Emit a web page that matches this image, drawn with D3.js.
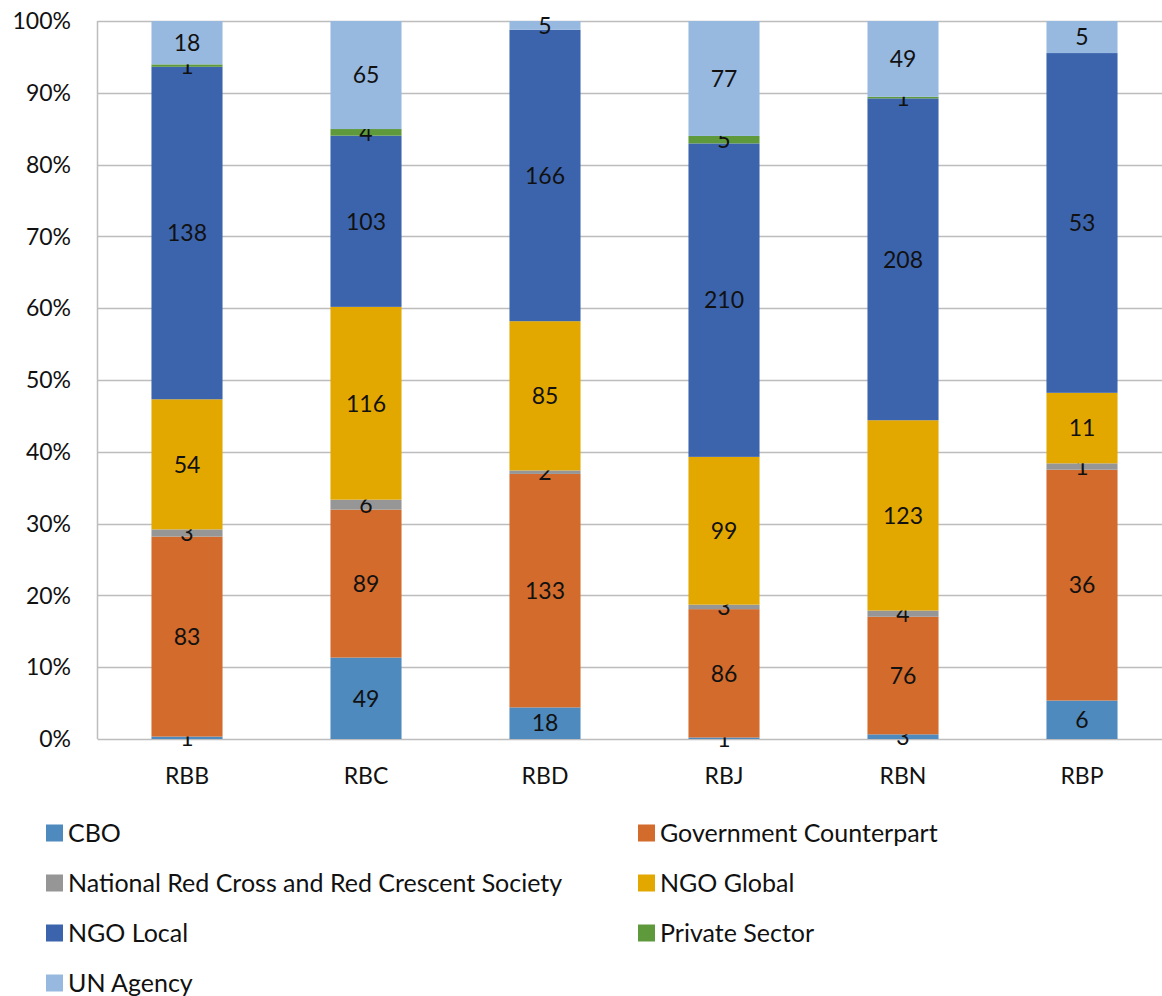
<!DOCTYPE html>
<html>
<head>
<meta charset="utf-8">
<script src="https://cdn.jsdelivr.net/npm/d3@7"></script>
<style>
  body { margin: 0; background: #fff; }
  text { font-family: "Lato", "Open Sans", sans-serif; fill: #111; }
</style>
</head>
<body>
<div id="container"></div>
<script>
// categories and series
var regions = ["RBB", "RBC", "RBD", "RBJ", "RBN", "RBP"];
var series = ["CBO", "Government Counterpart", "National Red Cross and Red Crescent Society",
              "NGO Global", "NGO Local", "Private Sector", "UN Agency"];

// counts per series, one value per region
var cbo        = [1, 49, 18, 1, 3, 6];
var government = [83, 89, 133, 86, 76, 36];
var redCross   = [3, 6, 2, 3, 4, 1];
var ngoGlobal  = [54, 116, 85, 99, 123, 11];
var ngoLocal   = [138, 103, 166, 210, 208, 53];
var privateSec = [1, 4, 0, 5, 1, 0];
var unAgency   = [18, 65, 5, 77, 49, 5];

var yTicks = [0, 0.1, 0.2, 0.3, 0.4, 0.5, 0.6, 0.7, 0.8, 0.9, 1];

var color = ["#4e8abe", "#d26b2b", "#969696", "#e3a800", "#3c64ad", "#5e9a3c", "#97b9e0"];

var values = [cbo, government, redCross, ngoGlobal, ngoLocal, privateSec, unAgency];

// build table for d3.stack, normalised to 100%
var table = regions.map(function(r, i) {
    var row = { region: r };
    var total = d3.sum(values, function(v) { return v[i]; });
    series.forEach(function(s, j) { row[s] = values[j][i] / total; row["n_" + s] = values[j][i]; });
    return row;
});

var svg_width = 1162, svg_height = 996;
var plot_left = 97.5, plot_right = 1171.5, plot_top = 21, plot_bottom = 739;

var x = d3.scaleBand()
    .domain(regions)
    .range([plot_left, plot_right])
    .paddingInner(0.603)
    .paddingOuter(0.3015);

var y = d3.scaleLinear()
    .domain([0, 1])
    .range([plot_bottom, plot_top]);

var svg = d3.select("#container").append("svg")
    .attr("width", svg_width)
    .attr("height", svg_height);

// gridlines
svg.append("g").selectAll("line")
    .data(yTicks.slice(1))
    .enter().append("line")
    .attr("x1", plot_left).attr("x2", plot_right)
    .attr("y1", function(d) { return Math.round(y(d)) + 0.5; })
    .attr("y2", function(d) { return Math.round(y(d)) + 0.5; })
    .style("stroke", "#bdbdbd")
    .style("stroke-width", 1.5);

// axis lines
svg.append("line")
    .attr("x1", plot_left).attr("x2", plot_left).attr("y1", plot_top).attr("y2", plot_bottom)
    .style("stroke", "#bdbdbd").style("stroke-width", 1.5);
svg.append("line")
    .attr("x1", plot_left).attr("x2", plot_right).attr("y1", plot_bottom + 0.5).attr("y2", plot_bottom + 0.5)
    .style("stroke", "#bdbdbd").style("stroke-width", 1.5);

// y tick labels
svg.append("g").selectAll("text")
    .data(yTicks)
    .enter().append("text")
    .attr("x", 71)
    .attr("y", function(d) { return y(d); })
    .attr("dy", "0.36em")
    .attr("text-anchor", "end")
    .style("font-size", "23px")
    .text(d3.format(".0%"));

// x labels
svg.append("g").selectAll("text")
    .data(regions)
    .enter().append("text")
    .attr("x", function(d) { return x(d) + x.bandwidth() / 2; })
    .attr("y", 784)
    .attr("text-anchor", "middle")
    .style("font-size", "23px")
    .text(function(d) { return d; });

var stacked = d3.stack().keys(series)(table);

var layers = svg.selectAll(".layer")
    .data(stacked)
    .enter().append("g")
    .attr("class", "layer")
    .style("fill", function(_, i) { return color[i]; });

layers.selectAll("rect")
    .data(function(d) { return d; })
    .enter().append("rect")
    .attr("x", function(d) { return x(d.data.region); })
    .attr("y", function(d) { return y(d[1]); })
    .attr("width", x.bandwidth())
    .attr("height", function(d) { return y(d[0]) - y(d[1]); });

// value labels
layers.each(function(s) {
    d3.select(this).selectAll("text")
        .data(s.filter(function(d) { return d.data["n_" + s.key] > 0; }))
        .enter().append("text")
        .attr("x", function(d) { return x(d.data.region) + x.bandwidth() / 2; })
        .attr("y", function(d) { return y((d[0] + d[1]) / 2); })
        .attr("dy", "0.36em")
        .attr("text-anchor", "middle")
        .style("font-size", "23px")
        .style("fill", "#111")
        .text(function(d) { return d.data["n_" + s.key]; });
});

// legend, two columns
var legend = svg.append("g").selectAll("g")
    .data(series)
    .enter().append("g")
    .attr("transform", function(_, i) {
        return "translate(" + (i % 2 ? 638 : 46) + "," + (833 + Math.floor(i / 2) * 50) + ")";
    });

legend.append("rect")
    .attr("x", 0).attr("y", -8.5)
    .attr("width", 17).attr("height", 17)
    .style("fill", function(_, i) { return color[i]; });

legend.append("text")
    .attr("x", 22)
    .attr("dy", "0.36em")
    .style("font-size", "25px")
    .text(function(d) { return d; });
</script>
</body>
</html>
